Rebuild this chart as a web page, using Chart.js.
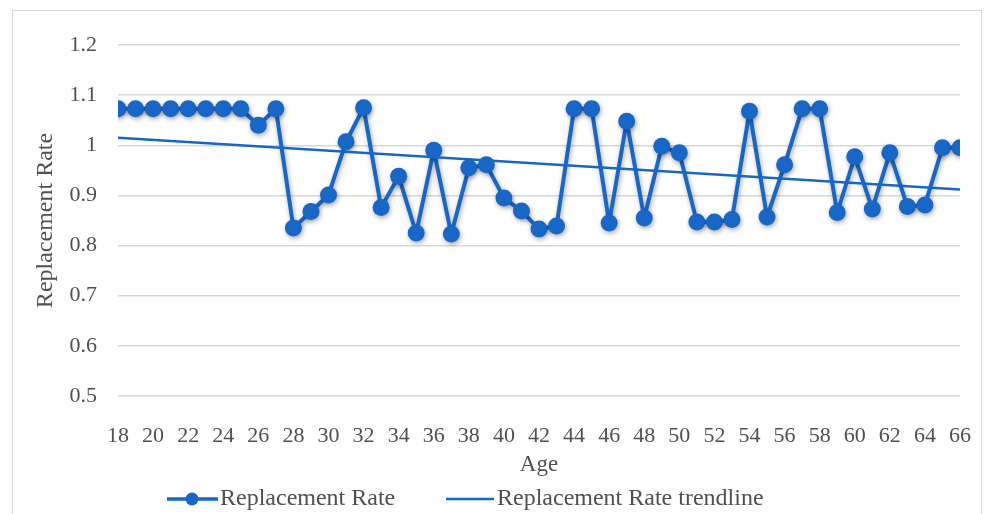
<!DOCTYPE html>
<html>
<head>
<meta charset="utf-8">
<script src="https://cdn.jsdelivr.net/npm/chart.js@4/dist/chart.umd.min.js"></script>
<style>
    body { margin: 0; background: #fff; }
    canvas { display: block; }
</style>
</head>
<body>
<canvas id="rate-chart" width="985" height="514"></canvas>
<script>
// Data
const ages = [18, 19, 20, 21, 22, 23, 24, 25, 26, 27, 28, 29, 30, 31, 32, 33, 34, 35, 36, 37, 38, 39, 40, 41, 42,
    43, 44, 45, 46, 47, 48, 49, 50, 51, 52, 53, 54, 55, 56, 57, 58, 59, 60, 61, 62, 63, 64, 65, 66];
const rates = [1.073, 1.073, 1.073, 1.073, 1.073, 1.073, 1.073, 1.073, 1.04, 1.073, 0.835, 0.868, 0.901, 1.007,
    1.075, 0.876, 0.938, 0.825, 0.99, 0.823, 0.955, 0.961, 0.895, 0.869, 0.833, 0.839, 1.073, 1.073, 0.845,
    1.048, 0.855, 0.998, 0.985, 0.847, 0.847, 0.852, 1.068, 0.857, 0.961, 1.073, 1.073, 0.866, 0.977, 0.873,
    0.985, 0.878, 0.881, 0.995, 0.995];
const trendAges = [18, 66];
const trendRates = [1.015, 0.912];
const yTicks = [0.5, 0.6, 0.7, 0.8, 0.9, 1, 1.1, 1.2];

const blue = "#1866c6";
const textColor = "#505050";
const fontFamily = "'Liberation Serif', 'DejaVu Serif', serif";

// soft drop shadow under the markers, like the original
const shadowPlugin = {
    id: "markerShadow",
    beforeDatasetDraw(chart, args) {
        if (args.index !== 1) return;
        const ctx = chart.ctx;
        ctx.save();
        ctx.shadowColor = "rgba(0, 0, 0, 0.35)";
        ctx.shadowBlur = 5;
        ctx.shadowOffsetX = 1;
        ctx.shadowOffsetY = 2;
    },
    afterDatasetDraw(chart, args) {
        if (args.index !== 1) return;
        chart.ctx.restore();
    }
};

// outer frame + legend drawn at the bottom
const framePlugin = {
    id: "frameAndLegend",
    beforeDraw(chart) {
        const ctx = chart.ctx;
        ctx.save();
        ctx.strokeStyle = "#d9d9d9";
        ctx.lineWidth = 1;
        ctx.strokeRect(12.5, 10.5, 969, 520);
        ctx.restore();
    },
    afterDraw(chart) {
        const ctx = chart.ctx;
        const y = 499;
        ctx.save();
        ctx.strokeStyle = blue;
        ctx.fillStyle = blue;
        ctx.lineWidth = 3.5;
        ctx.beginPath();
        ctx.moveTo(167, y);
        ctx.lineTo(218, y);
        ctx.stroke();
        ctx.beginPath();
        ctx.arc(192, y, 6.5, 0, Math.PI * 2);
        ctx.fill();
        ctx.lineWidth = 2.5;
        ctx.beginPath();
        ctx.moveTo(446, y);
        ctx.lineTo(494, y);
        ctx.stroke();
        ctx.fillStyle = textColor;
        ctx.font = "24px " + fontFamily;
        ctx.textBaseline = "middle";
        ctx.textAlign = "left";
        ctx.fillText(chart.data.datasets[1].label, 220, y);
        ctx.fillText(chart.data.datasets[0].label, 497, y);
        ctx.restore();
    }
};

const ctx = document.getElementById("rate-chart").getContext("2d");
const chart = new Chart(ctx, {
    type: "line",
    data: {
        datasets: [{
            label: "Replacement Rate trendline",
            data: trendAges.map((a, i) => ({x: a, y: trendRates[i]})),
            borderColor: blue,
            borderWidth: 2.5,
            pointRadius: 0,
            order: 0,
        }, {
            label: "Replacement Rate",
            data: ages.map((a, i) => ({x: a, y: rates[i]})),
            borderColor: blue,
            backgroundColor: blue,
            borderWidth: 4,
            borderJoinStyle: "round",
            borderCapStyle: "round",
            pointRadius: 8.5,
            pointBorderWidth: 0,
            pointBackgroundColor: blue,
            order: 1,
        }]
    },
    options: {
        responsive: false,
        animation: false,
        layout: {padding: {left: 28, right: 25, top: 45, bottom: 31}},
        plugins: {
            legend: {display: false},
            tooltip: {enabled: false},
        },
        scales: {
            x: {
                type: "linear",
                min: 18,
                max: 66,
                afterBuildTicks: (scale) => {
                    scale.ticks = ages.filter(a => a % 2 === 0).map(a => ({value: a}));
                },
                afterFit: (scale) => {
                    scale.height = 87;
                    scale.paddingLeft = 0;
                    scale.paddingRight = 0;
                },
                grid: {display: false},
                border: {display: false},
                ticks: {
                    color: textColor,
                    font: {family: fontFamily, size: 22},
                    padding: 19,
                    maxRotation: 0,
                    autoSkip: false,
                },
                title: {
                    display: true,
                    text: "Age",
                    color: textColor,
                    font: {family: fontFamily, size: 23},
                    padding: {top: 0, bottom: 4},
                },
            },
            y: {
                min: 0.5,
                max: 1.2,
                afterBuildTicks: (scale) => {
                    scale.ticks = yTicks.map(v => ({value: v}));
                },
                afterFit: (scale) => { scale.width = 90; },
                grid: {color: "#d9d9d9", lineWidth: 1.5, drawTicks: false},
                border: {display: false},
                ticks: {
                    color: textColor,
                    font: {family: fontFamily, size: 22},
                    padding: 21,
                    callback: (v) => String(+v.toFixed(1)),
                },
                title: {
                    display: true,
                    text: "Replacement Rate",
                    color: textColor,
                    font: {family: fontFamily, size: 24},
                    padding: {top: 3, bottom: 0},
                },
            },
        },
    },
    plugins: [shadowPlugin, framePlugin],
});
</script>
</body>
</html>
